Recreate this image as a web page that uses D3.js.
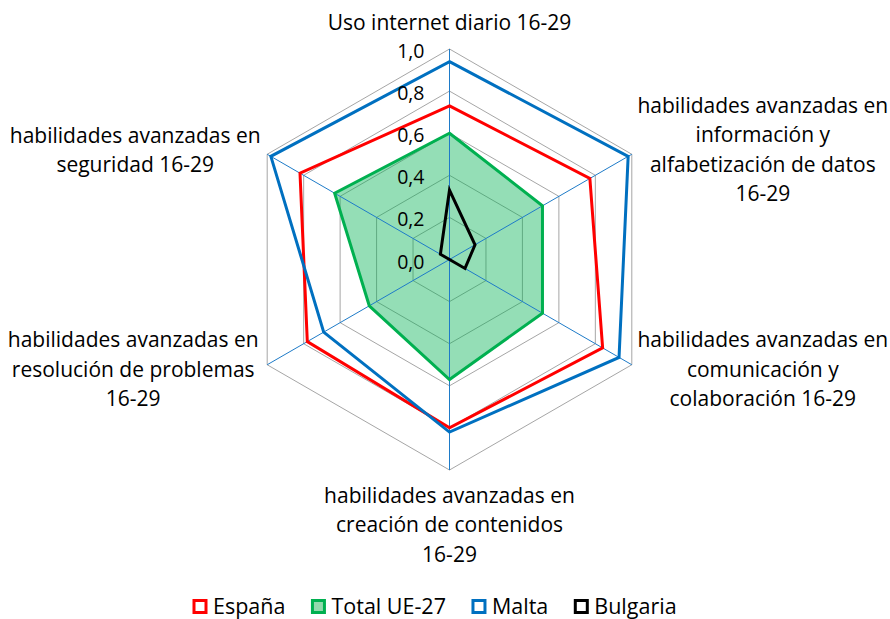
<!DOCTYPE html>
<html lang="es">
<head>
  <meta charset="UTF-8">
  <title>Radar 16-29</title>
  <script src="https://cdnjs.cloudflare.com/ajax/libs/d3/7.8.5/d3.min.js"></script>
  <style>
    body { margin: 0; background: #fff; }
    svg text { font-family: "Open Sans", "Noto Sans", sans-serif; fill: #000; }
  </style>
</head>
<body>
  <svg width="890" height="619"></svg>
  <script>
    // categorias (cada una partida en lineas como en el original)
    var categories = [
      ["Uso internet diario 16-29"],
      ["habilidades avanzadas en", "información y", "alfabetización de datos", "16-29"],
      ["habilidades avanzadas en", "comunicación y", "colaboración 16-29"],
      ["habilidades avanzadas en", "creación de contenidos", "16-29"],
      ["habilidades avanzadas en", "resolución de problemas", "16-29"],
      ["habilidades avanzadas en", "seguridad 16-29"]
    ]

    var espana   = [0.73, 0.77, 0.84, 0.80, 0.78, 0.82]
    var ue27     = [0.60, 0.51, 0.51, 0.57, 0.44, 0.63]
    var malta    = [0.94, 0.98, 0.93, 0.82, 0.69, 0.98]
    var bulgaria = [0.33, 0.14, 0.085, 0.0, 0.0, 0.05]

    var ticks = [0, 0.2, 0.4, 0.6, 0.8, 1.0]

    var series = [
      { name: "España",      values: espana,   color: "#FF0000", fill: "none" },
      { name: "Total UE-27", values: ue27,     color: "#00B050", fill: "#00B050" },
      { name: "Malta",       values: malta,    color: "#0070C0", fill: "none" },
      { name: "Bulgaria",    values: bulgaria, color: "#000000", fill: "none" }
    ]

    var cx = 449.5, cy = 259.5
    var r = d3.scaleLinear().domain([0, 1]).range([0, 210.5])
    var n = categories.length
    var angle = i => i * 2 * Math.PI / n

    var svg = d3.select("svg")
    var g = svg.append("g").attr("transform", `translate(${cx},${cy})`)

    var ring = d3.lineRadial()
      .angle((d, i) => angle(i))
      .radius(d => r(d))
      .curve(d3.curveLinearClosed)

    // rejilla
    g.selectAll(".grid")
      .data(ticks.filter(t => t > 0))
      .enter().append("path")
      .attr("class", "grid")
      .attr("d", t => ring(categories.map(() => t)))
      .attr("fill", "none")
      .attr("stroke", "#A6A6A6")
      .attr("stroke-width", 1)

    // relleno de las series
    g.selectAll(".serie")
      .data(series)
      .enter().append("path")
      .attr("class", "serie")
      .attr("d", s => ring(s.values))
      .attr("fill", s => s.fill)
      .attr("fill-opacity", 0.42)
      .attr("stroke", "none")

    // radios (ejes)
    g.selectAll(".spoke")
      .data(categories)
      .enter().append("line")
      .attr("class", "spoke")
      .attr("x1", 0).attr("y1", 0)
      .attr("x2", (d, i) => r(1) * Math.sin(angle(i)))
      .attr("y2", (d, i) => -r(1) * Math.cos(angle(i)))
      .attr("stroke", "#1E7BC8")
      .attr("stroke-width", 1)

    // lineas de las series por encima de los radios
    g.selectAll(".serieTop")
      .data(series)
      .enter().append("path")
      .attr("class", "serieTop")
      .attr("d", s => ring(s.values))
      .attr("fill", "none")
      .attr("stroke", s => s.color)
      .attr("stroke-width", 3)

    // etiquetas del eje
    var fmt = v => d3.format(".1f")(v).replace(".", ",")
    g.selectAll(".tick")
      .data(ticks)
      .enter().append("text")
      .attr("class", "tick")
      .attr("x", -25)
      .attr("y", t => -r(t) + 2)
      .attr("dy", "0.36em")
      .attr("text-anchor", "end")
      .style("font-size", "19.5px")
      .text(fmt)

    // etiquetas de categoria: desplazamiento desde el extremo del eje
    var labelOffset = [[0, -27], [131, -49], [131, -25], [0, 25], [-134, -25], [-132, -19]]
    var lineH = 29.5
    categories.forEach((lines, i) => {
      var ex = r(1) * Math.sin(angle(i)) + labelOffset[i][0]
      var ey = -r(1) * Math.cos(angle(i)) + labelOffset[i][1]
      var t = g.append("text")
        .attr("text-anchor", "middle")
        .style("font-size", "21px")
      lines.forEach((l, k) => {
        t.append("tspan")
          .attr("x", ex)
          .attr("y", ey + k * lineH)
          .attr("dy", "0.36em")
          .text(l)
      })
    })

    // leyenda
    var leg = svg.append("g").attr("transform", "translate(0,606.5)")
    var x0 = 194
    series.forEach(s => {
      leg.append("rect")
        .attr("x", x0).attr("y", -6)
        .attr("width", 12).attr("height", 12)
        .attr("fill", s.fill === "none" ? "#fff" : "#92D9AC")
        .attr("stroke", s.color)
        .attr("stroke-width", 3)
      var tx = leg.append("text")
        .attr("x", x0 + 19).attr("y", 0)
        .attr("dy", "0.36em")
        .style("font-size", "21.5px")
        .text(s.name)
      x0 += 19 + tx.node().getComputedTextLength() + 27
    })
  </script>
</body>
</html>
